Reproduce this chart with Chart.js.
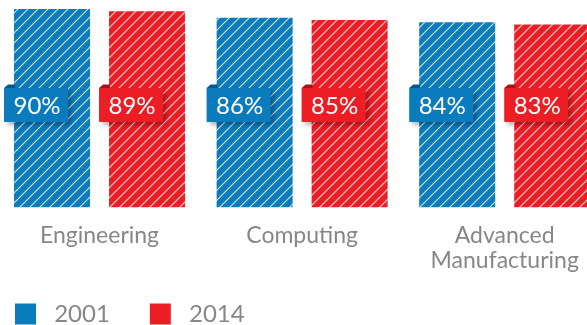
<!DOCTYPE html>
<html>
<head>
<meta charset="utf-8">
<script src="https://cdn.jsdelivr.net/npm/chart.js@4.4.1/dist/chart.umd.min.js"></script>
<style>
  html, body { margin: 0; padding: 0; background: #fff; overflow: hidden; width: 587px; height: 325px; }
  #wrap { position: absolute; left: -13px; top: 0; }
</style>
</head>
<body>
<div id="wrap"><canvas id="chart" width="619" height="336"></canvas></div>
<script>
const categories = ["Engineering", "Computing", ["Advanced", "Manufacturing"]];
const years = ["2001", "2014"];
const share2001 = [90, 86, 84];
const share2014 = [89, 85, 83];

const blueColour = "#0a7bbd";
const redColour = "#ec1d25";
const blueDark = "#06598a";
const redDark = "#a8141a";
const textColour = "#878787";

const hatch = (colour) => {
  const tile = document.createElement("canvas");
  tile.width = 10;
  tile.height = 10;
  const c = tile.getContext("2d");
  c.fillStyle = colour;
  c.fillRect(0, 0, 10, 10);
  c.strokeStyle = "rgba(255,255,255,0.8)";
  c.lineWidth = 1.1;
  c.beginPath();
  c.moveTo(-1, 11); c.lineTo(11, -1);
  c.moveTo(-6, 6); c.lineTo(6, -6);
  c.moveTo(4, 16); c.lineTo(16, 4);
  c.stroke();
  return c.createPattern(tile, "repeat");
};

// little folded tags with the percentage, at a fixed height
const tagPlugin = {
  id: "tags",
  afterDatasetsDraw(chart) {
    const ctx = chart.ctx;
    const yc = chart.scales.y.getPixelForValue(46.5);
    const h = 34, w = 64;
    chart.data.datasets.forEach((ds, i) => {
      const meta = chart.getDatasetMeta(i);
      meta.data.forEach((bar, j) => {
        const x = bar.x - bar.width / 2 - 10;
        const y = yc - h / 2;
        ctx.save();
        ctx.fillStyle = ds.darkColour;
        ctx.beginPath();
        ctx.moveTo(x, y);
        ctx.lineTo(x + 4, y - 3.5);
        ctx.lineTo(x + 11, y - 3.5);
        ctx.lineTo(x + 11, y);
        ctx.closePath();
        ctx.fill();
        ctx.shadowColor = "rgba(0,0,0,0.35)";
        ctx.shadowBlur = 5;
        ctx.shadowOffsetX = 3;
        ctx.shadowOffsetY = 3;
        ctx.fillStyle = ds.solidColour;
        ctx.fillRect(x, y, w, h);
        ctx.restore();
        ctx.save();
        ctx.fillStyle = "#fff";
        ctx.font = "24px Lato";
        ctx.textAlign = "center";
        ctx.textBaseline = "middle";
        ctx.fillText(ds.data[j] + "%", x + w / 2 + 1, yc + 1);
        ctx.restore();
      });
    });
  },
};

new Chart(document.getElementById("chart"), {
  type: "bar",
  data: {
    labels: categories,
    datasets: [
      {
        label: years[0],
        data: share2001,
        backgroundColor: hatch(blueColour),
        solidColour: blueColour,
        darkColour: blueDark,
        borderWidth: 0,
        categoryPercentage: 0.938,
        barPercentage: 0.8,
      },
      {
        label: years[1],
        data: share2014,
        backgroundColor: hatch(redColour),
        solidColour: redColour,
        darkColour: redDark,
        borderWidth: 0,
        categoryPercentage: 0.938,
        barPercentage: 0.8,
      },
    ],
  },
  options: {
    responsive: false,
    animation: false,
    events: [],
    layout: { padding: { top: 9, left: 0, right: 0, bottom: 0 } },
    scales: {
      x: {
        grid: { display: false, drawTicks: false },
        border: { display: false },
        ticks: {
          color: textColour,
          padding: 15,
          maxRotation: 0,
          autoSkip: false,
          font: { family: "Lato", size: 23, lineHeight: 1.1 },
        },
        afterFit: (scale) => { scale.height = 66.5; },
      },
      y: {
        min: 0,
        max: 90,
        grid: { display: false },
        border: { display: false },
        ticks: { display: false },
        afterFit: (scale) => { scale.width = 11.25; },
      },
    },
    plugins: {
      tooltip: { enabled: false },
      legend: {
        position: "bottom",
        align: "start",
        labels: {
          boxWidth: 21,
          boxHeight: 21,
          padding: 28,
          color: textColour,
          font: { family: "Lato", size: 24 },
          generateLabels: (chart) =>
            chart.data.datasets.map((ds, i) => ({
              text: " " + ds.label + "\u2002",
              fillStyle: ds.solidColour,
              strokeStyle: ds.solidColour,
              lineWidth: 0,
              fontColor: textColour,
              datasetIndex: i,
              hidden: false,
            })),
        },
      },
    },
  },
  plugins: [tagPlugin],
});
</script>
</body>
</html>
